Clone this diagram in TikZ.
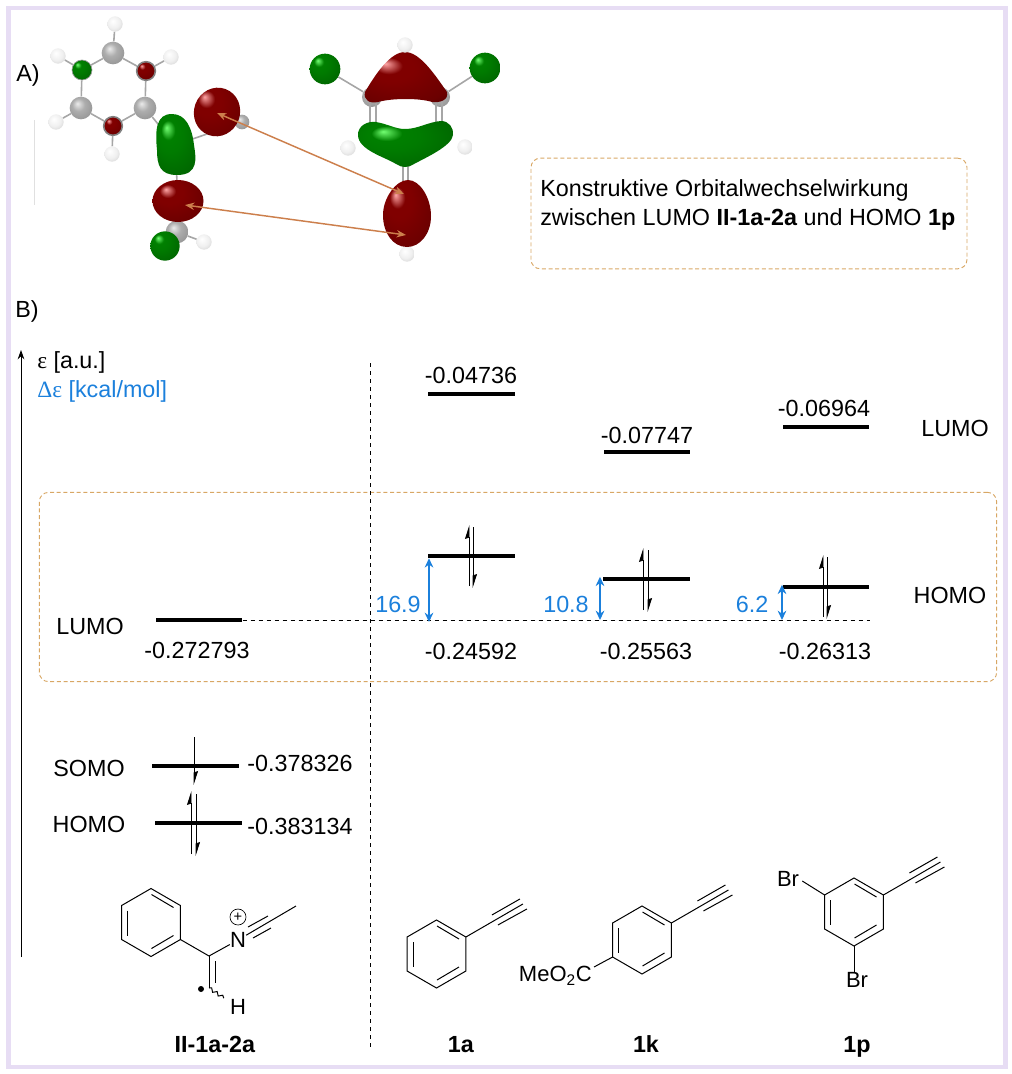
\documentclass[tikz,border=0pt]{standalone}
\usepackage{fontspec}
\setmainfont{Liberation Sans}
\newfontfamily\greekserif{Liberation Serif}
\usepackage{tikz}
\usetikzlibrary{calc,arrows.meta,decorations.pathmorphing}
\definecolor{framepurple}{HTML}{E7DDF4}
\definecolor{boxorange}{HTML}{D8A765}
\definecolor{deltablue}{HTML}{1B80DC}
\definecolor{linkorange}{HTML}{CC7F4C}
\pgfdeclareradialshading{redlobe}{\pgfqpoint{-12bp}{14bp}}{color(0bp)=(red!35!white); color(8bp)=(red!50!black); color(14bp)=(red!50!black); color(32bp)=(red!42!black); color(50bp)=(red!20!black)}
\pgfdeclareradialshading{greenlobe}{\pgfqpoint{-12bp}{14bp}}{color(0bp)=(green!55!white); color(8bp)=(green!50!black); color(16bp)=(green!48!black); color(33bp)=(green!40!black); color(50bp)=(green!18!black)}
\pgfdeclareradialshading{greyball}{\pgfqpoint{-8bp}{10bp}}{color(0bp)=(black!8); color(14bp)=(black!32); color(32bp)=(black!42); color(50bp)=(black!62)}
\pgfdeclareradialshading{hball}{\pgfqpoint{-8bp}{10bp}}{color(0bp)=(white); color(20bp)=(black!6); color(36bp)=(black!18); color(50bp)=(black!50)}
\tikzset{
    every node/.append style={font=\fontsize{17.5}{21.75}\selectfont, inner sep=0pt},
    orbline/.style={fill=black, minimum width=65pt, minimum height=3pt},
    spin/.style={draw, line width=0.6pt, -{Stealth[harpoon, inset=1pt, length=9.5pt, width=6pt]}},
    gapedge/.style={draw=deltablue, line width=1pt, {Stealth[length=7pt, width=6.5pt]}-{Stealth[length=7pt, width=6.5pt]}},
    gaplabel/.style={text=deltablue},
    notebox/.style={draw=boxorange, dashed, dash pattern=on 3pt off 2pt, line width=0.7pt, rounded corners=7pt},
    linkedge/.style={draw=linkorange, line width=1.1pt, {Stealth[length=7pt, width=5.5pt]}-{Stealth[length=7pt, width=5.5pt]}},
    chembond/.style={draw, line width=0.75pt},
    chemlabel/.style={font=\fontsize{16.5}{20}\selectfont},
    bondlink/.style={draw=black!35, line width=1.2pt},
    atomh/.style={circle, shading=hball, minimum size=11.5pt},
    atomc/.style={circle, shading=greyball, minimum size=17pt},
    atomred/.style={circle, shading=redlobe, draw=black!50, line width=1.2pt, minimum size=14pt},
    atomgreen/.style={circle, shading=greenlobe, draw=black!40, line width=0.5pt, minimum size=15pt},
    ballgreen/.style={circle, shading=greenlobe, minimum size=23pt}
}
% one six-membered ring with its three inner bonds
\newcommand{\phring}[3]{
    \coordinate (#1t) at (#2,#3-34);
    \coordinate (#1ur) at (#2+29.4,#3-17);
    \coordinate (#1lr) at (#2+29.4,#3+17);
    \coordinate (#1b) at (#2,#3+34);
    \coordinate (#1ll) at (#2-29.4,#3+17);
    \coordinate (#1ul) at (#2-29.4,#3-17);
    \draw[chembond] (#1t) -- (#1ur) -- (#1lr) -- (#1b) -- (#1ll) -- (#1ul) -- cycle;
    \draw[chembond] (#2-23.5,#3-12) -- (#2-23.5,#3+13);
    \draw[chembond] (#2+0.5,#3-28) -- (#2+22.5,#3-15);
    \draw[chembond] (#2+0.5,#3+26) -- (#2+22.5,#3+13);
}
% terminal alkyne on a ring corner
\newcommand{\alkyne}[1]{
    \draw[chembond] (#1) -- ($(#1)+(57,-33)$);
    \draw[chembond] ($(#1)+(26,-22)$) -- ($(#1)+(54,-38)$);
    \draw[chembond] ($(#1)+(32,-12)$) -- ($(#1)+(61,-28)$);
}

\begin{document}
\begin{tikzpicture}[x=0.75pt, y=-0.75pt]
    \useasboundingbox (0,0) rectangle (1011,1074);
    \node[draw=framepurple, line width=3.4pt, minimum width=748pt, minimum height=794pt] (frame) at (507,537.5) {};

    % Part A, atoms of the radical
    \draw[draw=black!12, line width=0.5pt] (34,120) -- (34,205);
    \node[atomc] (c1) at (113,53) {};
    \node[atomred] (c2) at (146,71) {};
    \node[atomc] (c3) at (145,108) {};
    \node[atomred] (c4) at (113,126) {};
    \node[atomc] (c5) at (81,108) {};
    \node[atomgreen] (c6) at (82,70) {};
    \node[atomh] (h1) at (115,24) {};
    \node[atomh] (h2) at (58,56) {};
    \node[atomh] (h3) at (171,57) {};
    \node[atomh] (h4) at (56,122) {};
    \node[atomh] (h5) at (112,154) {};
    \node[atomc, minimum size=11pt] (h6) at (242,122) {};
    \node[atomc] (c7) at (177,232) {};
    \node[atomh] (h7) at (204,242) {};
    \coordinate (cn) at (175,145);
    \coordinate (cm) at (178,200);

    \draw[bondlink] (c1) -- (c2);
    \draw[bondlink] (c2) -- (c3);
    \draw[bondlink] (c3) -- (c4);
    \draw[bondlink] (c4) -- (c5);
    \draw[bondlink] (c5) -- (c6);
    \draw[bondlink] (c6) -- (c1);
    \draw[bondlink] (c1) -- (h1);
    \draw[bondlink] (c6) -- (h2);
    \draw[bondlink] (c2) -- (h3);
    \draw[bondlink] (c5) -- (h4);
    \draw[bondlink] (c4) -- (h5);
    \draw[bondlink] (c3) -- (cn);
    \draw[bondlink] (cn) -- (h6);
    \draw[bondlink] (cn) -- (cm);
    \draw[bondlink] (cm) -- (c7);
    \draw[bondlink] (c7) -- (h7);

    % Part A, lobes of the radical
    \shade[shading=greenlobe] (172,114) .. controls (186,114) and (192,128) .. (194,145) .. controls (196,158) and (199,175) .. (177,175) .. controls (160,175) and (157,165) .. (157,150) .. controls (155,130) and (156,114) .. (172,114) -- cycle;
    \shade[shading=redlobe, rotate around={-20:(217,112)}] (217,112) ellipse (23 and 24.5);
    \shade[shading=redlobe] (178,201) ellipse (25.5 and 21);
    \node[ballgreen, minimum size=22pt] (g1) at (165,246) {};

    % Part A, the alkyne
    \node[atomc, minimum size=15pt] (c8) at (372,97) {};
    \node[atomc, minimum size=15pt] (c9) at (440,97) {};
    \node[ballgreen] (g2) at (325,69) {};
    \node[ballgreen] (g3) at (485,68) {};
    \node[atomh] (h8) at (407,254) {};
    \coordinate (c10) at (405,150);
    \coordinate (c11) at (405,200);
    \node[atomh] (h9) at (348,148) {};
    \node[atomh] (h10) at (465,147) {};
    \draw[bondlink] (g2) -- (c8);
    \draw[bondlink] (g3) -- (c9);
    \draw[bondlink, line width=0.8pt] ($(c8)+(-2,0)$) -- ($(c8)+(-2,30)$);
    \draw[bondlink, line width=0.8pt] ($(c8)+(4,0)$) -- ($(c8)+(4,30)$);
    \draw[bondlink, line width=0.8pt] ($(c9)+(-4,0)$) -- ($(c9)+(-4,30)$);
    \draw[bondlink, line width=0.8pt] ($(c9)+(2,0)$) -- ($(c9)+(2,30)$);
    \draw[bondlink, line width=0.8pt] ($(c10)+(-2,0)$) -- ($(c11)+(-2,0)$);
    \draw[bondlink, line width=0.8pt] ($(c10)+(3,0)$) -- ($(c11)+(3,0)$);
    \shade[shading=redlobe] (405,52) .. controls (420,52) and (435,75) .. (447,92) .. controls (449,100) and (440,103) .. (432,102) .. controls (420,98) and (392,98) .. (378,102) .. controls (370,104) and (363,100) .. (365,92) .. controls (375,75) and (390,52) .. (405,52) -- cycle;
    \shade[shading=greenlobe] (358,135) .. controls (358,125) and (368,121) .. (376,122) .. controls (388,124) and (395,129) .. (405,129) .. controls (418,129) and (428,122) .. (441,121) .. controls (449,121) and (454,128) .. (453,135) .. controls (452,146) and (425,158) .. (414,164) .. controls (408,168) and (402,168) .. (396,164) .. controls (385,157) and (358,150) .. (358,135) -- cycle;
    \shade[shading=redlobe] (408,180) .. controls (420,180) and (431,198) .. (431,216) .. controls (431,234) and (420,247) .. (407,247) .. controls (393,247) and (383,233) .. (383,215) .. controls (383,198) and (396,180) .. (408,180) -- cycle;
    \node[atomh] (h11) at (405,45) {};

    % links between the lobes
    \coordinate (lobetop) at (217,113);
    \coordinate (lobemid) at (185,205);
    \coordinate (lobeeast) at (404,194);
    \coordinate (lobelow) at (406,235);
    \draw[linkedge] (lobetop) -- (lobeeast);
    \draw[linkedge] (lobemid) -- (lobelow);

    \node (parta) at (28,75) {A)};
    \node[notebox, minimum width=327pt, minimum height=83pt] (note) at (749,213.5) {};
    \node[anchor=west, align=left] (notetext) at (540,204.5) {Konstruktive Orbitalwechselwirkung\\zwischen LUMO \textbf{II-1a-2a} und HOMO \textbf{1p}};

    % Part B
    \node (partb) at (27,311) {B)};
    \node[notebox, minimum width=718pt, minimum height=142pt] (focus) at (518,587) {};

    \coordinate (axisbot) at (21,957);
    \coordinate (axistop) at (21,350);
    \draw[-{Stealth[length=7pt, width=5pt]}, line width=0.7pt] (axisbot) -- (axistop);
    \node[anchor=west] (unita) at (37,362) {{\greekserif ε} [a.u.]};
    \node[anchor=west, text=deltablue] (unitb) at (37,391) {{\greekserif Δε} [kcal/mol]};
    \coordinate (sepa) at (370,363);
    \coordinate (sepb) at (370,1050);
    \draw[dashed, line width=0.6pt] (sepa) -- (sepb);

    % levels
    \node[orbline] (lumoa) at (471.5,394) {};
    \node[orbline] (lumok) at (647,452) {};
    \node[orbline] (lumop) at (826,427) {};
    \node[orbline] (homoa) at (471.5,556) {};
    \node[orbline] (homok) at (646.5,579) {};
    \node[orbline] (homop) at (826,587) {};
    \node[orbline] (lumor) at (199,620) {};
    \node[orbline] (somor) at (195.5,766) {};
    \node[orbline] (homor) at (198.5,823) {};

    \coordinate (refend) at (870,620);
    \draw[dashed, line width=0.6pt] (lumor.east) -- (refend);

    % energies
    \node (ea) at (471,375) {-0.04736};
    \node (ek) at (647,435) {-0.07747};
    \node (ep) at (824,408) {-0.06964};
    \node (eha) at (471,651) {-0.24592};
    \node (ehk) at (646,651) {-0.25563};
    \node (ehp) at (825,651) {-0.26313};
    \node (elr) at (197,650) {-0.272793};
    \node (esr) at (300,763) {-0.378326};
    \node (ehr) at (300,826) {-0.383134};

    % names of the levels
    \node (lumotext) at (955,428) {LUMO};
    \node (homotext) at (950,595) {HOMO};
    \node (lumoleft) at (90,626) {LUMO};
    \node (somoleft) at (89,768) {SOMO};
    \node (homoleft) at (89,824) {HOMO};

    % electrons
    \draw[spin] ($(homoa)+(-2.5,30)$) -- ($(homoa)+(-2.5,-31)$);
    \draw[spin] ($(homoa)+(1.5,-29)$) -- ($(homoa)+(1.5,32)$);
    \draw[spin] ($(homok)+(-3.5,31)$) -- ($(homok)+(-3.5,-31)$);
    \draw[spin] ($(homok)+(1.5,-29)$) -- ($(homok)+(1.5,33)$);
    \draw[spin] ($(homop)+(-3,30)$) -- ($(homop)+(-3,-32)$);
    \draw[spin] ($(homop)+(1,-30)$) -- ($(homop)+(1,32)$);
    \draw[spin] ($(somor)+(-1.5,-29)$) -- ($(somor)+(-1.5,19)$);
    \draw[spin] ($(homor)+(-7.5,31)$) -- ($(homor)+(-7.5,-32)$);
    \draw[spin] ($(homor)+(-2.5,-29)$) -- ($(homor)+(-2.5,33)$);

    % gaps
    \coordinate (refa) at (429,622);
    \coordinate (refk) at (600,620);
    \coordinate (refp) at (782,620);
    \draw[gapedge] (homoa.south west -| refa) -- (refa);
    \draw[gapedge] (homok.north west -| refk) -- (refk);
    \draw[gapedge] (homop.north west -| refp) -- (refp);
    \node[gaplabel] (gapa) at (398,604) {16.9};
    \node[gaplabel] (gapk) at (566,604) {10.8};
    \node[gaplabel] (gapp) at (752,604) {6.2};

    % structures
    \phring{ph}{151}{922.5}
    \node[chemlabel] (nplus) at (238,940) {N};
    \node[circle, draw, line width=0.5pt, minimum size=12pt, font=\fontsize{11}{11}\selectfont] (charge) at (238,917) {+};
    \coordinate (cim) at (209,956);
    \coordinate (cvin) at (209,988);
    \coordinate (wavy) at (224,998);
    \coordinate (meth) at (296,906);
    \node[chemlabel] (hvin) at (238,1007) {H};
    \node[circle, fill=black, minimum size=4.5pt] (dot) at (201,989) {};
    \draw[chembond] (phlr) -- (cim);
    \draw[chembond] (cim) -- (nplus);
    \draw[chembond] (cim) -- (cvin);
    \draw[chembond] (215,961) -- (215,983);
    \draw[chembond] (nplus) -- (meth);
    \draw[chembond] (248,927) -- (268,916);
    \draw[chembond] (253,938) -- (271,928);
    \draw[chembond, decorate, decoration={snake, segment length=5pt, amplitude=1.2pt}] (cvin) -- (wavy);

    \phring{pa}{436.5}{954}
    \alkyne{paur}

    \phring{pk}{642}{940}
    \alkyne{pkur}
    \node[chemlabel, anchor=east] (ester) at (592,976) {MeO\textsubscript{2}C};
    \coordinate (esterbond) at (594,967);
    \draw[chembond] (pkll) -- (esterbond);

    \phring{pp}{854}{912}
    \alkyne{ppur}
    \node[chemlabel] (bra) at (788,879) {Br};
    \node[chemlabel] (brb) at (857,980) {Br};
    \draw[chembond] (ppul) -- ($(bra.east)+(3,2)$);
    \draw[chembond] (ppb) -- (ppb |- brb.north);

    % compound labels
    \node[anchor=base] (namer) at (215,1052) {\textbf{II-1a-2a}};
    \node[anchor=base] (namea) at (461,1052) {\textbf{1a}};
    \node[anchor=base] (namek) at (646,1052) {\textbf{1k}};
    \node[anchor=base] (namep) at (857,1052) {\textbf{1p}};
\end{tikzpicture}
\end{document}
